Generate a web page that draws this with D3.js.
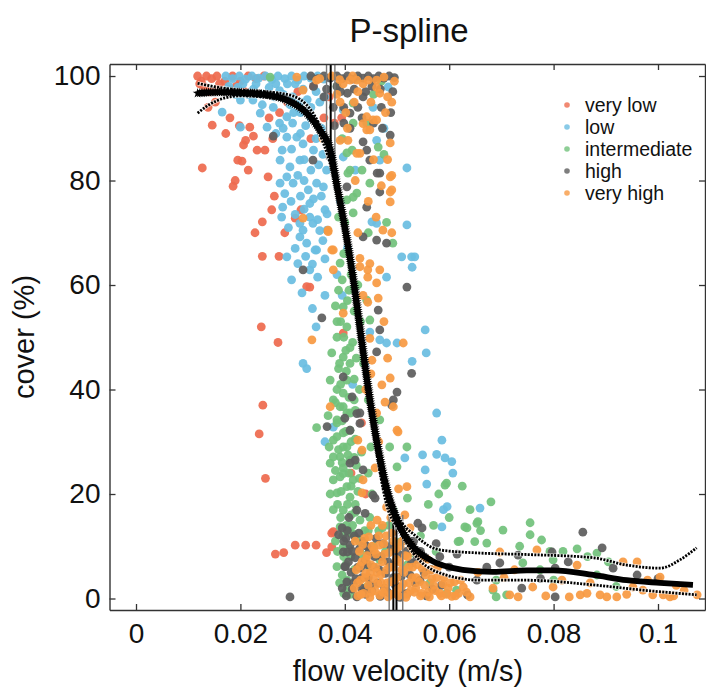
<!DOCTYPE html>
<html><head><meta charset="utf-8">
<script src="https://cdn.jsdelivr.net/npm/d3@7"></script>
<style>
html,body{margin:0;padding:0;background:#fff;}
svg text{font-family:"Liberation Sans",Arial,Helvetica,sans-serif;fill:#111;}
</style></head>
<body><svg id="c" width="706" height="687"></svg>
<script>
// ---------------- data ----------------
const TITLE = "P-spline";
const X_LABEL = "flow velocity (m/s)";
const Y_LABEL = "cover (%)";
const X_TICKS = [0, 0.02, 0.04, 0.06, 0.08, 0.1];
const X_TICK_LABELS = ["0", "0.02", "0.04", "0.06", "0.08", "0.1"];
const Y_TICKS = [0, 20, 40, 60, 80, 100];
const CATEGORIES = ["very low", "low", "intermediate", "high", "very high"];
const COLORS = ["#ee6b4f", "#6bbde1", "#72c27c", "#5e5e5e", "#f89a43"];

const veryLow = [[0.0118,100],[0.0125,99],[0.0135,100],[0.0145,99.5],[0.0155,100],[0.017,99],[0.0185,100],[0.02,99],[0.0215,100],[0.023,99.5],[0.0245,100],[0.013,98],[0.0155,97.5],[0.0186,96.8],[0.0146,90.6],[0.018,92],[0.0218,90.2],[0.0198,90.5],[0.0255,92],[0.0275,93],[0.021,87.7],[0.0206,86.8],[0.0232,85.8],[0.0247,85.8],[0.0195,83.9],[0.0203,83.7],[0.0127,82.4],[0.019,80],[0.0186,78.9],[0.0253,80.7],[0.026,74.4],[0.0242,72.1],[0.0316,74.4],[0.0305,72.8],[0.0242,65.5],[0.0274,65.5],[0.0333,59.6],[0.0327,59.7],[0.024,52],[0.0272,49],[0.0397,50.8],[0.0243,37],[0.0236,31.5],[0.0248,23],[0.0432,33.6],[0.0378,12.8],[0.0375,9.9],[0.0267,8.5],[0.0283,8.8],[0.0305,10.2],[0.0325,10.2],[0.0345,10.2],[0.0365,8.8],[0.0375,12.5],[0.029,95],[0.031,97],[0.034,98],[0.037,96],[0.036,92],[0.0394,92],[0.0335,88],[0.038,91],[0.044,20],[0.0412,24],
  [0.0122,98.5],[0.014,97],[0.016,98.5],[0.0178,97.5],[0.0192,98],[0.0208,97],[0.0152,95],[0.0138,94],[0.0172,89],[0.0225,88.5],[0.0262,88],[0.0215,82],[0.0265,77],[0.0285,70],[0.0228,70]];

const low = [[0.0172,100],[0.0185,99.5],[0.0198,100],[0.021,99.4],[0.0222,100],[0.0235,99.6],[0.0248,100],[0.026,99.3],[0.0272,100],[0.0285,99.5],[0.0298,100],[0.031,99.2],[0.0322,100],[0.0335,99.6],[0.0348,100],[0.036,99.4],[0.0195,97.8],[0.0225,97.5],[0.0255,97.8],[0.0275,97.2],[0.03,96],[0.032,97.5],[0.0345,97],[0.0362,96],[0.02,95.4],[0.0224,95.4],[0.0263,94],[0.0289,92.2],[0.03,91],[0.0308,88.3],[0.032,87],[0.0289,88.3],[0.028,85.8],[0.0276,83.9],[0.0295,82.6],[0.0314,83.9],[0.034,85.8],[0.0289,80.7],[0.0301,79.5],[0.0276,79.5],[0.033,78.2],[0.0346,79.5],[0.0281,74.9],[0.0279,73],[0.0314,71.8],[0.0333,73],[0.0314,69.2],[0.0327,68],[0.0346,66.7],[0.0289,65.4],[0.031,64.1],[0.0333,62.9],[0.0352,70.4],[0.0366,73.6],[0.0251,90.2],[0.0238,92.9],[0.0165,93.1],[0.02,90.2],[0.0335,92],[0.0355,90],[0.0345,88],[0.0325,90.5],[0.0359,78.8],[0.0333,75.6],[0.0362,74.4],[0.0339,71.8],[0.0366,70.5],[0.0343,66.7],[0.032,70.5],[0.0365,82],[0.0358,85],[0.0397,93.5],[0.0454,94],[0.0461,87.7],[0.0397,84.5],[0.0467,83.9],[0.0519,82.4],[0.0483,97.9],[0.0461,71.8],[0.0528,65.4],[0.0452,72.1],[0.048,61.5],[0.0519,71.5],[0.0509,65.4],[0.0534,65.4],[0.0529,63.4],[0.0554,51.4],[0.0556,47],[0.0529,45.4],[0.0576,35.5],[0.0586,30.3],[0.0549,27.5],[0.0576,27.6],[0.0592,26.9],[0.0605,26.2],[0.0607,24],[0.0554,24.6],[0.0557,21.9],[0.0586,13.7],[0.0659,17.3],[0.0596,17.6],[0.0515,26.9],[0.032,45],[0.0327,44],[0.048,48.9],[0.0467,49.5],[0.05,48.9],[0.0448,51],[0.0362,30],[0.0378,32.8],[0.0395,58],[0.0385,62],[0.0405,67],[0.0415,41],[0.0438,45],[0.042,82],[0.0475,90],[0.0392,76],[0.0589,17],
  [0.0178,98],[0.019,96.5],[0.0205,98.5],[0.0215,96.5],[0.023,98.5],[0.024,96.5],[0.0242,94.5],[0.0265,96],[0.0268,98.5],[0.0282,96.5],[0.029,98.5],[0.0295,94.5],[0.0305,98.5],[0.0315,95],[0.0315,93],[0.0328,95.5],[0.0335,94],[0.0352,95],[0.0302,93],[0.0275,91],[0.0268,89],[0.0282,90],[0.0315,89],[0.0298,86],[0.0322,84],[0.0335,82],[0.035,83],[0.031,81],[0.0322,80],[0.0285,77.5],[0.0297,76],[0.0315,77],[0.034,76.5],[0.0322,74.5],[0.0305,73.5],[0.0355,77],[0.0292,71],[0.0348,72.5],[0.0358,68.5],[0.0338,64],[0.0325,65.5],[0.0305,67],[0.0362,65],[0.0298,61],[0.0348,61.5],[0.0318,58.5],[0.0362,58],[0.0338,55.5],[0.0345,52]];

const intermediate = [[0.0404,76.3],[0.0416,73.8],[0.0388,73],[0.0391,64.2],[0.0388,59],[0.0397,55.8],[0.0404,52],[0.0385,50],[0.0397,46.2],[0.041,45],[0.0372,41.8],[0.0404,41.8],[0.0397,39.3],[0.0391,36.7],[0.0404,35.5],[0.0385,34.2],[0.0397,31.7],[0.0378,30.3],[0.0404,29],[0.0391,27.1],[0.0372,25.9],[0.0397,23.9],[0.0378,22.7],[0.0404,21.4],[0.0346,32.7],[0.0467,34.2],[0.0486,29],[0.0519,29],[0.0442,57.1],[0.0448,53.3],[0.0595,22.1],[0.0385,40],[0.0397,36.7],[0.0385,33.6],[0.041,32.2],[0.0397,29],[0.0378,27.1],[0.041,26.5],[0.0391,23.3],[0.0416,22.7],[0.0385,20.2],[0.041,19.4],[0.0397,16.9],[0.0429,15],[0.0391,13.7],[0.0416,12.4],[0.0397,9.9],[0.0385,6.1],[0.0404,3.5],[0.0448,6],[0.0467,7.4],[0.0442,2.2],[0.0519,6.4],[0.0563,3],[0.0595,1],[0.0531,8.7],[0.0493,16.9],[0.05,25.2],[0.0416,94.8],[0.0442,91],[0.0414,85.8],[0.0433,82],[0.0448,79.5],[0.0416,91],[0.0404,85.3],[0.041,82],[0.0385,98],[0.0425,99.5],[0.047,99],[0.0455,96.5],[0.0395,88],[0.0475,85],[0.0445,70],[0.04,72],[0.048,72],[0.0492,68],[0.0257,99.8],[0.0423,77.6],[0.0464,86.4],[0.0416,76.8],[0.0406,81.4],[0.0412,62],[0.0398,66],[0.0405,57],[0.0392,53],[0.0415,49],[0.0402,47.5],[0.0388,44],[0.0418,38],[0.0382,37.5],[0.0412,30],[0.0395,26],[0.0422,25.5],[0.0408,24],[0.0386,18],[0.0412,16],[0.0403,14],[0.0425,20.5],[0.0405,2],[0.0412,12.5],[0.0395,4.5],[0.0398,8],[0.0408,9.5],[0.0415,14],[0.042,18],[0.0428,11],[0.0445,13],[0.0472,13.5],[0.0478,9],[0.0505,10.8],[0.0545,12],[0.057,14],[0.0575,9],[0.0592,21.7],[0.063,13.7],[0.0653,14.4],[0.0703,13.1],[0.0617,10.9],[0.0741,6.8],[0.069,3.5],[0.0614,1.6],[0.0634,13.5],[0.0655,14.7],[0.0649,10.9],[0.0672,10.6],[0.0755,12.2],[0.0777,11.2],[0.0793,9],[0.0818,9],[0.0799,7.4],[0.0883,8.7],[0.0883,4.5],[0.092,2.3],[0.069,0.3],[0.071,0.7],[0.0684,1.6],[0.08,3.5],[0.0774,5.5],[0.062,11],[0.058,20],[0.056,18],[0.06,15.5],[0.0625,21.5],[0.064,17],[0.066,13],[0.068,18.5],[0.052,19.2],[0.0735,10],[0.0845,9.5],[0.0905,7],[0.0755,14.5],[0.0865,8],
  [0.0382,56],[0.0395,61],[0.0408,59],[0.0418,55],[0.043,53],[0.0425,60],[0.0385,53],[0.0398,50],[0.041,48],[0.0422,46],[0.039,45],[0.0403,43.5],[0.0418,42],[0.0428,40],[0.0392,41],[0.0408,38.5],[0.0378,38],[0.042,36],[0.0395,34],[0.041,35.5],[0.0385,31],[0.0402,32],[0.042,30.5],[0.0432,28],[0.0388,28.5],[0.0406,27.5],[0.0418,27],[0.0382,24.5],[0.0397,25],[0.0412,21.5],[0.0428,23],[0.0393,20.5],[0.0405,18],[0.042,16.5],[0.0378,17],[0.0392,15.5],[0.0408,13],[0.0422,11.5],[0.0382,11],[0.0396,12],[0.0412,8],[0.0386,9],[0.0402,6.5],[0.0418,5.5],[0.039,3],[0.041,0.8],[0.0398,1],[0.0432,8.5],[0.0438,13],[0.0448,15.5],[0.0455,10],[0.0465,13],[0.0485,14],[0.0375,47],[0.0368,35],[0.0372,20],[0.037,29],[0.0436,45],[0.0445,38],[0.045,29],[0.0445,24],[0.0452,20]];

const high = [[0.0335,100],[0.0348,99.5],[0.036,100],[0.0372,99.6],[0.0385,100],[0.0395,99.5],[0.0405,100],[0.0415,99.4],[0.0425,100],[0.0435,99.6],[0.0445,100],[0.0455,99.5],[0.0465,100],[0.0475,99.6],[0.0485,100],[0.0495,99.7],[0.0405,96.7],[0.0435,96],[0.041,92.9],[0.0433,92],[0.041,90],[0.0487,88.7],[0.0435,87.4],[0.0442,85.8],[0.0467,81.4],[0.0448,83.9],[0.0263,88.5],[0.0339,83.9],[0.032,62.9],[0.0404,78.8],[0.0462,81.4],[0.0467,77.8],[0.0442,74.9],[0.0435,69.2],[0.0461,68.6],[0.048,68],[0.0519,59.6],[0.0464,55.2],[0.0356,53.7],[0.0467,51.4],[0.0461,47.2],[0.0528,43.1],[0.0397,42.4],[0.05,39.5],[0.0493,38],[0.0414,38.6],[0.04,34.5],[0.041,32.2],[0.0429,35.5],[0.042,26.5],[0.0366,32.9],[0.0458,19.2],[0.049,37],[0.0423,35.4],[0.0429,33.5],[0.041,25.9],[0.0435,24.6],[0.0423,16.9],[0.0439,16.3],[0.0454,19.8],[0.0397,8.9],[0.04,6.1],[0.0385,98],[0.036,96],[0.047,94],[0.0455,91],[0.038,90.5],[0.0398,94],[0.0452,98],[0.0402,11.5],[0.0405,8.9],[0.0401,6.1],[0.0404,3.2],[0.0403,0.5],[0.041,10.2],[0.0412,5],[0.0414,1.8],[0.0418,12],[0.042,7.8],[0.0421,3.8],[0.0423,0.3],[0.0428,9.5],[0.043,5.8],[0.0432,2],[0.0436,11],[0.0438,7],[0.044,0.8],[0.0445,4],[0.0447,9],[0.0452,1.5],[0.0455,6],[0.046,11.5],[0.0463,3],[0.0468,0.4],[0.047,8],[0.0478,4.8],[0.0482,1.2],[0.0488,10],[0.049,6.5],[0.0497,2.5],[0.0503,8.5],[0.0508,4.2],[0.0515,11.5],[0.052,1],[0.0528,6.8],[0.0535,3],[0.0545,9],[0.0548,13.5],[0.054,14.4],[0.0544,3.5],[0.0512,1],[0.0556,0.5],[0.0565,5.5],[0.0575,10.5],[0.0585,2.5],[0.06,6],[0.0635,0.7],[0.0653,3.5],[0.0697,6.8],[0.0739,2],[0.0732,8.3],[0.0797,8.9],[0.0803,5.8],[0.0803,0.3],[0.0828,7],[0.0856,12.7],[0.0893,9.7],[0.0914,5.8],[0.096,4.5],[0.1,3.8],[0.0295,0.3],[0.0395,13.5],[0.0408,15.5],[0.0615,8.5],[0.0672,6],[0.0775,3.8],
  [0.034,98],[0.0365,97.5],[0.0392,97],[0.0418,97.5],[0.044,97],[0.0468,97.5],[0.0492,97],[0.0378,94],[0.0425,94],[0.0488,93],[0.0398,91],[0.0472,90],[0.0395,2],[0.0398,11],[0.0407,7],[0.0415,9],[0.0417,3],[0.0425,6],[0.0427,12.5],[0.0433,4],[0.0437,1.5],[0.0442,10],[0.0443,6.5],[0.0449,2.5],[0.0457,8],[0.0466,5.5],[0.0473,10.5],[0.0476,2],[0.0483,7],[0.0493,4],[0.0506,0.2],[0.0518,9],[0.0525,4.5],[0.0532,11],[0.0538,7.5],[0.0552,5],[0.0568,1.8],[0.0582,8],[0.0405,13],[0.0388,12.2]];

const veryHigh = [[0.0397,98.5],[0.0423,99.2],[0.0435,98.5],[0.0461,97.8],[0.0467,96.7],[0.0454,91.6],[0.0442,89.7],[0.0435,90.9],[0.0487,87.2],[0.0406,87.7],[0.0429,85.2],[0.049,81],[0.0308,99.8],[0.032,97.3],[0.0346,99.2],[0.0391,95],[0.041,99.2],[0.0461,99.2],[0.0442,92.2],[0.0461,91.6],[0.0448,89.7],[0.0391,87.7],[0.0423,85.2],[0.0358,88],[0.032,72.8],[0.0368,70.2],[0.0487,80.7],[0.049,78.2],[0.0487,75.9],[0.0378,66.7],[0.0429,65.1],[0.0448,64.1],[0.0467,62.9],[0.0461,60.4],[0.0378,62.9],[0.0487,77.8],[0.0368,70.5],[0.0473,70.5],[0.0375,66.7],[0.0429,63.5],[0.0444,62.9],[0.0444,61.5],[0.0464,57.5],[0.0444,56.7],[0.0397,54.6],[0.0448,49.8],[0.0512,48.9],[0.0337,49.5],[0.0452,45.6],[0.0487,42.2],[0.0471,40.9],[0.0477,37.6],[0.0493,36.7],[0.0461,35.5],[0.0502,31.9],[0.0425,30.3],[0.0433,28.4],[0.0372,36.7],[0.0435,22.7],[0.0433,20.2],[0.0352,99.5],[0.0375,100],[0.039,99.3],[0.0415,100],[0.0445,99.2],[0.0475,99.8],[0.0495,99],[0.0385,96.5],[0.0425,97],[0.049,95],[0.0478,93],[0.05,32.2],[0.0519,21.4],[0.0503,21],[0.0515,16],[0.0525,13.5],[0.0418,2],[0.0422,5.5],[0.0425,0.5],[0.0428,9],[0.043,3.5],[0.0433,7],[0.0436,1],[0.0438,11.5],[0.044,4.8],[0.0443,8.2],[0.0445,2.5],[0.0448,0.2],[0.045,6.5],[0.0452,10],[0.0455,3.8],[0.0458,1.5],[0.046,8.5],[0.0462,5],[0.0465,12],[0.0467,0.6],[0.047,3],[0.0472,7],[0.0475,10.5],[0.0477,1.8],[0.048,5.5],[0.0483,0.3],[0.0485,8.8],[0.0488,3.2],[0.049,12.5],[0.0492,6],[0.0495,1],[0.0498,9.5],[0.05,4],[0.0503,0.5],[0.0505,7],[0.0508,2.2],[0.051,11],[0.0513,5],[0.0517,0.2],[0.052,8],[0.0523,3],[0.0527,10],[0.053,6],[0.0533,1.2],[0.0537,4],[0.054,8.5],[0.0545,0.5],[0.0548,5.8],[0.0553,2.5],[0.0558,7.5],[0.0562,0.3],[0.0567,3.8],[0.0573,1.5],[0.0578,6],[0.0585,0.5],[0.059,4],[0.0598,2],[0.0605,0.4],[0.061,3.2],[0.0618,1],[0.0627,2.2],[0.064,0.3],[0.0684,2],[0.0697,8.9],[0.0716,0.7],[0.0732,0.3],[0.076,2.2],[0.0768,9.3],[0.0799,2.2],[0.0816,3.5],[0.0845,6.4],[0.0851,0.7],[0.0864,1],[0.0889,0.7],[0.0902,0.3],[0.0921,0.3],[0.0933,7],[0.0952,2.2],[0.096,7],[0.0971,1.6],[0.099,0.7],[0.1004,4.1],[0.101,0.7],[0.1023,0.3],[0.1035,2.5],[0.105,1.5],[0.1075,0.7],[0.0655,5],[0.0705,4],[0.0725,5.5],[0.0785,0.5],[0.083,0.3],[0.087,3],[0.094,0.8],[0.098,3.5],[0.103,0.5],
  [0.042,11],[0.0424,3],[0.0429,6.2],[0.0431,0.8],[0.0434,10.3],[0.0439,4],[0.0441,7.5],[0.0446,11.8],[0.0449,5],[0.0451,1.2],[0.0456,9.2],[0.0459,6],[0.0463,2.8],[0.0466,10.2],[0.0469,4.5],[0.0473,1.2],[0.0476,8.5],[0.0479,12],[0.0481,3],[0.0486,6],[0.0489,0.8],[0.0493,11],[0.0496,3.5],[0.0499,7.5],[0.0502,1.8],[0.0506,10],[0.0509,5.5],[0.0512,2.8],[0.0516,8.2],[0.0519,0.8],[0.0522,6],[0.0526,1.5],[0.0529,4],[0.0532,9],[0.0536,2],[0.0539,6.5],[0.0543,3.2],[0.0547,1],[0.055,7.8],[0.0555,4.5],[0.056,1.2],[0.0565,5.5],[0.057,2.5],[0.0576,4],[0.0582,1],[0.0588,2.8],[0.0595,0.8],[0.0602,3],[0.0612,0.5],[0.0622,3.5],[0.0633,1.2],[0.045,14],[0.0462,15],[0.0472,14],[0.0488,15.5],[0.048,17.5],
  [0.0402,93],[0.0418,95],[0.045,95],[0.0482,96],[0.0405,90],[0.0482,84],[0.0455,84],[0.042,80],[0.047,79],[0.0445,76],[0.046,73],[0.0425,70],[0.049,70],[0.0435,58],[0.0475,53],[0.045,43],[0.0482,46],[0.044,40],[0.0465,30],[0.0458,25]];

const SERIES = [veryLow, low, intermediate, high, veryHigh];

// fitted P-spline and its confidence band
const fitX = [0.0118,0.016,0.02,0.025,0.0289,0.0327,0.0352,0.0372,0.0384,0.0404,0.042,0.0432,0.0452,0.0467,0.048,0.05,0.0531,0.0563,0.0626,0.0684,0.0749,0.08,0.0876,0.094,0.1004,0.1067];
const fitY = [96.7,96.9,96.8,96.4,95.4,92.9,89.7,85.9,79.5,68.8,58.5,49.5,35.5,27,21,15,9.9,7.4,5.5,5.1,5.4,5.4,4.5,3.5,3.0,2.6];
const upX = [0.0118,0.016,0.02,0.025,0.03,0.0352,0.0384,0.042,0.0452,0.048,0.05,0.0538,0.0582,0.0659,0.0755,0.0876,0.094,0.1004,0.1042,0.1074];
const upY = [98.6,97.8,97.3,97,96.2,90.5,80.5,59.5,37,22.5,16.3,11.8,9.3,8.7,8.4,7.8,6.4,5.8,7.4,9.7];
const loX = [0.0118,0.014,0.017,0.02,0.025,0.03,0.0352,0.0384,0.042,0.0452,0.048,0.0506,0.0531,0.0582,0.0659,0.0749,0.0876,0.0971,0.1074];
const loY = [92.9,94.5,95.8,96.2,95.9,94.5,88.8,78.5,57.5,34,18,12.8,8.7,4.9,3.5,3.5,2.6,1.6,0.7];

// threshold lines: [x, yFrom, yTo]
const thrBlack = [[0.0373, 102.3, 82], [0.0493, -2.2, 16], [0.0499, -2.2, 16]];
const thrGray = [[0.0365, 102.3, 84], [0.0381, 102.3, 84], [0.0485, -2.2, 16], [0.0511, -2.2, 16]];

// ---------------- drawing ----------------
const svg = d3.select("#c");
const L = 109.5, R = 705, T = 64, B = 610;
const x = d3.scaleLinear().domain([-0.005077, 0.109004]).range([L, R]);
const y = d3.scaleLinear().domain([-2.2, 102.3]).range([B, T]);

svg.append("defs").append("clipPath").attr("id", "clip")
  .append("rect").attr("x", L).attr("y", T).attr("width", R - L).attr("height", B - T);

const plot = svg.append("g").attr("clip-path", "url(#clip)");

SERIES.forEach((pts, i) => {
  plot.append("g").selectAll("circle").data(pts).join("circle")
    .attr("cx", d => x(d[0])).attr("cy", d => y(d[1])).attr("r", 4.4)
    .attr("fill", COLORS[i]).attr("fill-opacity", 0.93);
});

plot.selectAll(".tg").data(thrGray).join("line")
  .attr("x1", d => x(d[0])).attr("x2", d => x(d[0]))
  .attr("y1", d => y(d[1])).attr("y2", d => y(d[2]))
  .attr("stroke", "#777").attr("stroke-width", 1.4);
plot.selectAll(".tb").data(thrBlack).join("line")
  .attr("x1", d => x(d[0])).attr("x2", d => x(d[0]))
  .attr("y1", d => y(d[1])).attr("y2", d => y(d[2]))
  .attr("stroke", "#000").attr("stroke-width", 2);

const line = d3.line().x(d => x(d[0])).y(d => y(d[1])).curve(d3.curveMonotoneX);
const zip = (a, b) => a.map((v, i) => [v, b[i]]);

[zip(upX, upY), zip(loX, loY)].forEach(pts => {
  plot.append("path").attr("d", line(pts)).attr("fill", "none")
    .attr("stroke", "#fff").attr("stroke-width", 4).attr("stroke-opacity", 0.75);
  plot.append("path").attr("d", line(pts)).attr("fill", "none")
    .attr("stroke", "#000").attr("stroke-width", 2.8).attr("stroke-dasharray", "2,1.3");
});

const fitPath = plot.append("path").attr("d", line(zip(fitX, fitY))).attr("fill", "none")
  .attr("stroke", "#000").attr("stroke-width", 5.8).attr("stroke-linecap", "butt");

const node = fitPath.node();
const len = node.getTotalLength();
const star = d3.symbol().type(d3.symbolStar).size(30);
const xLimit = x(0.056);
for (let s = 0; s < len; s += 2.2) {
  const p = node.getPointAtLength(s);
  if (p.x > xLimit) break;
  plot.append("path").attr("d", star()).attr("transform", `translate(${p.x},${p.y})`).attr("fill", "#000");
}

const axG = svg.append("g");
const styleAxis = g => {
  g.select(".domain").attr("stroke", "#333").attr("stroke-width", 1.4);
  g.selectAll(".tick line").attr("stroke", "#333").attr("stroke-width", 1.3);
};
axG.append("g").attr("transform", `translate(0,${B})`)
  .call(d3.axisBottom(x).tickValues(X_TICKS).tickFormat((d, i) => X_TICK_LABELS[i]).tickSizeInner(-6).tickSizeOuter(0).tickPadding(13))
  .call(styleAxis)
  .selectAll("text").attr("font-size", 28).attr("fill", "#111");
axG.append("g").attr("transform", `translate(0,${T})`)
  .call(d3.axisTop(x).tickValues(X_TICKS).tickFormat("").tickSizeInner(-6).tickSizeOuter(0))
  .call(styleAxis);
axG.append("g").attr("transform", `translate(${L},0)`)
  .call(d3.axisLeft(y).tickValues(Y_TICKS).tickFormat(d3.format("d")).tickSizeInner(-6).tickSizeOuter(0).tickPadding(9))
  .call(styleAxis)
  .selectAll("text").attr("font-size", 28).attr("fill", "#111");
axG.append("g").attr("transform", `translate(${R},0)`)
  .call(d3.axisRight(y).tickValues(Y_TICKS).tickFormat("").tickSizeInner(-6).tickSizeOuter(0))
  .call(styleAxis);
axG.selectAll("text").attr("font-family", '"Liberation Sans", Arial, sans-serif');

svg.append("text").attr("x", 409).attr("y", 42).attr("text-anchor", "middle")
  .attr("font-size", 33).text(TITLE);
svg.append("text").attr("x", 408).attr("y", 681).attr("text-anchor", "middle")
  .attr("font-size", 29).text(X_LABEL);
svg.append("text").attr("transform", "translate(34,337) rotate(-90)").attr("text-anchor", "middle")
  .attr("font-size", 29).text(Y_LABEL);

const lg = svg.append("g").attr("transform", "translate(567,105)");
CATEGORIES.forEach((c, i) => {
  const g = lg.append("g").attr("transform", `translate(0,${i * 22})`);
  g.append("circle").attr("r", 2.8).attr("fill", COLORS[i]).attr("fill-opacity", 0.8);
  g.append("text").attr("x", 18).attr("y", 0).attr("dy", "0.35em").attr("font-size", 19.5).text(c);
});
</script></body></html>
